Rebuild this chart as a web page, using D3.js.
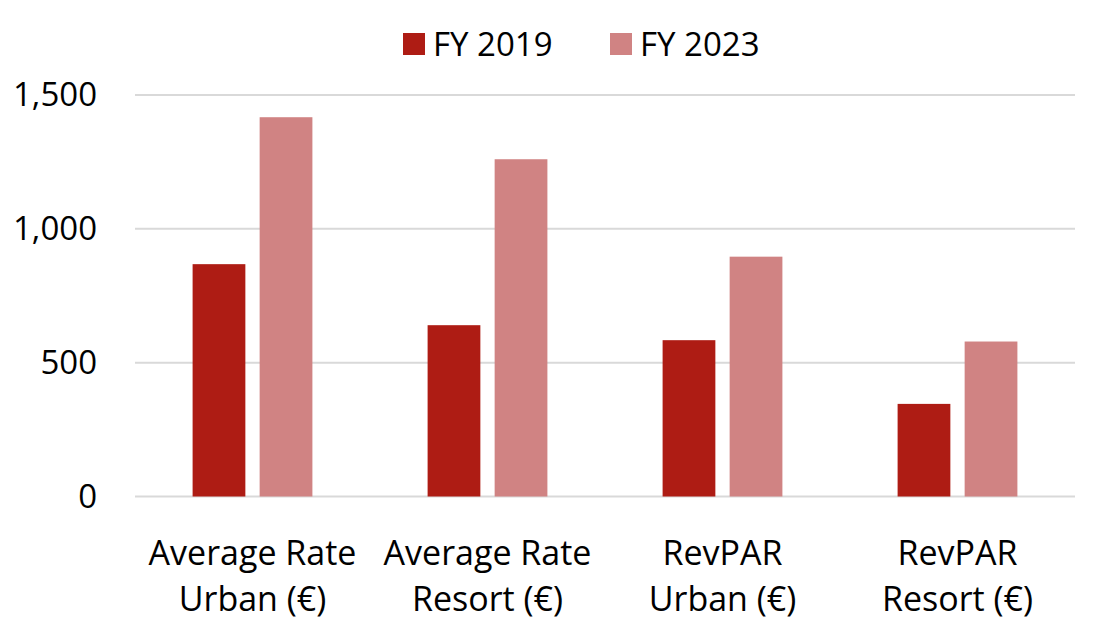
<!DOCTYPE html>
<html>
<head>
<meta charset="utf-8">
<script src="https://cdn.jsdelivr.net/npm/d3@7"></script>
<style>
  body { margin: 0; background: #fff; }
  svg text { font-family: "Open Sans", "Noto Sans", sans-serif; fill: #000; }
</style>
</head>
<body>
<svg width="1095" height="644"></svg>
<script>
// Chart data
var categories = [["Average Rate", "Urban (€)"], ["Average Rate", "Resort (€)"], ["RevPAR", "Urban (€)"], ["RevPAR", "Resort (€)"]];
var seriesNames = ["FY 2019", "FY 2023"];
var fy2019 = [868, 640, 584, 346];
var fy2023 = [1417, 1260, 896, 579];
var yTicks = [0, 500, 1000, 1500];
var colors = ["#AE1C14", "#D08383"];

var svg = d3.select("svg"),
    margin = {top: 95, right: 20, bottom: 148, left: 135},
    width = 1095 - margin.left - margin.right,
    height = 644 - margin.top - margin.bottom,
    g = svg.append("g").attr("transform", "translate(" + margin.left + "," + margin.top + ")");

var keys = categories.map(function(c) { return c.join(" "); });

var x0 = d3.scaleBand().domain(keys).range([0, 940]).padding(0);
var x1 = d3.scaleBand().domain(seriesNames)
    .range([57.6, x0.bandwidth() - 57.6]).paddingInner(0.213);
var y = d3.scaleLinear().domain([0, 1500]).range([401.5, 0]);

// Gridlines
g.selectAll(".grid")
  .data(yTicks)
  .enter()
  .append("line")
  .attr("x1", 0)
  .attr("x2", 940)
  .attr("y1", function(d) { return y(d); })
  .attr("y2", function(d) { return y(d); })
  .attr("stroke", "#d9d9d9")
  .attr("stroke-width", 2);

// Y axis labels
var yAxis = g.append("g")
  .call(d3.axisLeft(y).tickValues(yTicks).tickFormat(d3.format(",")).tickSize(0).tickPadding(38));
yAxis.select(".domain").remove();
yAxis.selectAll("text")
  .style("font-family", "'Open Sans', sans-serif")
  .style("font-size", "33px")
  .attr("fill", "#000");

// Bars
var data = keys.map(function(k, i) {
  return {key: k, values: [{name: seriesNames[0], value: fy2019[i]}, {name: seriesNames[1], value: fy2023[i]}]};
});

var groups = g.selectAll(".group")
  .data(data)
  .enter()
  .append("g")
  .attr("transform", function(d) { return "translate(" + x0(d.key) + ",0)"; });

groups.selectAll("rect")
  .data(function(d) { return d.values; })
  .enter()
  .append("rect")
  .attr("x", function(d) { return x1(d.name); })
  .attr("y", function(d) { return y(d.value); })
  .attr("width", x1.bandwidth())
  .attr("height", function(d) { return y(0) - y(d.value); })
  .attr("fill", function(d, i) { return colors[i]; });

// Category labels (two lines)
var labels = g.selectAll(".cat")
  .data(categories)
  .enter()
  .append("text")
  .attr("text-anchor", "middle")
  .style("font-size", "34px")
  .attr("transform", function(d, i) { return "translate(" + (x0(keys[i]) + x0.bandwidth() / 2) + "," + (y(0) + 68) + ")"; });
labels.append("tspan").attr("x", 0).attr("y", 0).text(function(d) { return d[0]; });
labels.append("tspan").attr("x", 0).attr("y", 46).text(function(d) { return d[1]; });

// Legend
var legend = svg.append("g").attr("transform", "translate(403,33)");
var legendX = [0, 207];
seriesNames.forEach(function(s, i) {
  legend.append("rect")
    .attr("x", legendX[i])
    .attr("y", 0)
    .attr("width", 22)
    .attr("height", 22)
    .attr("fill", colors[i]);
  legend.append("text")
    .attr("x", legendX[i] + 30)
    .attr("y", 23)
    .style("font-size", "33px")
    .text(s);
});
</script>
</body>
</html>
